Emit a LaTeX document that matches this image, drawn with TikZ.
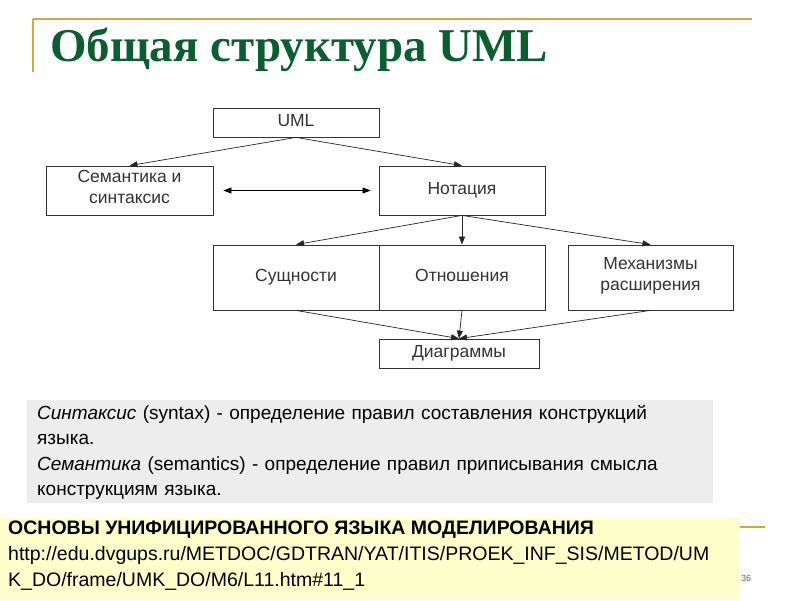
\documentclass[tikz,border=0pt]{standalone}
\usepackage{fontspec}
\setmainfont{Liberation Sans}
\newfontfamily\titlefont{Liberation Serif}
\usetikzlibrary{arrows.meta}
\definecolor{gold}{HTML}{D4A83A}
\definecolor{tgreen}{HTML}{0B5E2E}
\definecolor{gbox}{HTML}{EDEDED}
\definecolor{ybox}{HTML}{FFFFCC}
\begin{document}
\begin{tikzpicture}[x=1pt,y=-1pt,
  bx/.style={draw=black!80,line width=0.8pt,inner sep=0pt,align=center,font=\fontsize{17.5}{21}\selectfont,text=black!80,execute at begin node=\strut},
  ar/.style={-{Triangle[length=8pt,width=6pt]},line width=0.7pt,draw=black!85}]
\useasboundingbox (0,0) rectangle (800,600);
\fill[white] (0,0) rectangle (800,600);
\draw[gold,line width=1.2pt] (33,19) -- (752,19);
\draw[gold,line width=1.2pt] (33,19) -- (33,72);
\node[anchor=base west,inner sep=0pt,text=tgreen,font=\titlefont\bfseries\fontsize{47}{50}\selectfont] (title) at (50,61) {Общая структура UML};

\node[bx,minimum width=166pt,minimum height=29pt] (uml) at (296,122.5) {UML};
\node[bx,minimum width=167pt,minimum height=49pt] (sem) at (129.5,190.5) {Семантика и\\синтаксис};
\node[bx,minimum width=166pt,minimum height=49pt] (not) at (462,190.5) {Нотация};
\node[bx,minimum width=166pt,minimum height=65pt] (sus) at (296,277.5) {Сущности};
\node[bx,minimum width=166pt,minimum height=65pt] (otn) at (462,277.5) {Отношения};
\node[bx,minimum width=165pt,minimum height=65pt] (mex) at (650.5,277.5) {Механизмы\\расширения};
\node[bx,minimum width=160pt,minimum height=29pt] (dia) at (459,353.5) {Диаграммы};

\coordinate (c1) at (uml.south);
\draw[ar] (c1) -- (sem.north);
\draw[ar] (c1) -- (not.north);
\draw[{Triangle[length=8pt,width=6pt]}-{Triangle[length=8pt,width=6pt]},line width=0.7pt] ([xshift=10pt]sem.east) -- ([xshift=-8pt]not.west);
\coordinate (c2) at (not.south);
\draw[ar] (c2) -- (sus.north);
\draw[ar] (c2) -- (otn.north);
\draw[ar] (c2) -- (mex.north);
\coordinate (c3) at (dia.north);
\draw[ar] (sus.south) -- (c3);
\draw[ar] (otn.south) -- (c3);
\draw[ar] (mex.south) -- (c3);

\fill[gbox] (27,400) rectangle (713,503);
\node[anchor=north west,inner sep=0pt,align=left,text width=670pt,font=\fontsize{19}{25.5}\selectfont] (def) at (37,405)
{\textit{Синтаксис} (syntax) - определение правил составления конструкций\\языка.\\\textit{Семантика} (semantics) - определение правил приписывания смысла\\конструкциям языка.};

\fill[ybox] (0,518) rectangle (740,600);
\draw[gold,line width=1.2pt] (740,527) -- (765,527);
\node[anchor=north west,inner sep=0pt,align=left,font=\fontsize{19.5}{26}\selectfont] (src) at (8,521)
{\textbf{ОСНОВЫ УНИФИЦИРОВАННОГО ЯЗЫКА МОДЕЛИРОВАНИЯ}\\http://edu.dvgups.ru/METDOC/GDTRAN/YAT/ITIS/PROEK\_INF\_SIS/METOD/UM\\K\_DO/frame/UMK\_DO/M6/L11.htm\#11\_1};
\node[anchor=west,inner sep=0pt,text=black!60,font=\fontsize{9}{10}\selectfont] (pg) at (741,578) {36};
\end{tikzpicture}
\end{document}
